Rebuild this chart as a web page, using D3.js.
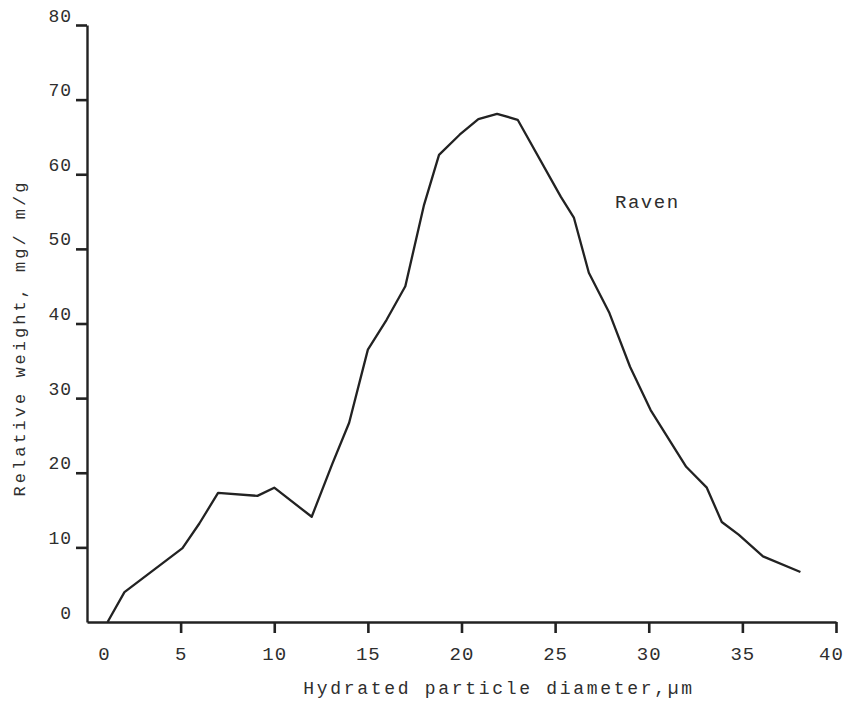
<!DOCTYPE html>
<html>
<head>
<meta charset="utf-8">
<script src="https://cdn.jsdelivr.net/npm/d3@7.9.0/dist/d3.min.js"></script>
<style>
  html, body { margin: 0; padding: 0; background: #fff; }
  svg { display: block; }
  .tick text, .label { font-family: "Liberation Mono", "DejaVu Sans Mono", monospace; fill: #2e2e2e; }
</style>
</head>
<body>
<svg id="chart" width="846" height="706"></svg>
<script>
// Raven: hydrated particle diameter (um) vs relative weight (mg/ m/g)
const diameter = [1.1, 2.0, 5.1, 6.0, 7.0, 9.1, 10.0, 12.0, 13.1, 14.0, 15.0, 16.0, 17.0, 18.0, 18.8,
                  19.9, 20.9, 21.9, 23.0, 25.3, 26.0, 26.8, 27.9, 29.0, 30.1, 32.0, 33.1, 33.9, 34.8, 36.1, 38.1];
const weight = [0, 4.0, 9.9, 13.2, 17.3, 16.9, 18.0, 14.1, 21.2, 26.7, 36.5, 40.5, 45.0, 55.9, 62.6,
                65.3, 67.4, 68.1, 67.3, 57.0, 54.2, 46.8, 41.4, 34.2, 28.4, 20.8, 18.0, 13.4, 11.7, 8.8, 6.7];
const xTicks = [0, 5, 10, 15, 20, 25, 30, 35, 40];
const yTicks = [0, 10, 20, 30, 40, 50, 60, 70, 80];

const svg = d3.select('#chart');
const margin = { top: 25, right: 10, bottom: 84, left: 87 };
const width = +svg.attr('width') - margin.left - margin.right;
const height = +svg.attr('height') - margin.top - margin.bottom;
const ink = '#222';

const g = svg.append('g').attr('transform', `translate(${margin.left},${margin.top})`);

const x = d3.scaleLinear().domain([0, 40]).range([0, width]);
const y = d3.scaleLinear().domain([0, 80]).range([height, 0]);

// x axis; the 0 label sits clear of the y axis, the 40 label inside the frame
const xAxis = g.append('g')
    .attr('transform', `translate(0,${height})`)
    .call(d3.axisBottom(x).tickValues(xTicks).tickSize(11).tickSizeOuter(0).tickPadding(14));
xAxis.select('.domain').attr('stroke', ink).attr('stroke-width', 2.4);
xAxis.selectAll('.tick line').attr('stroke', ink).attr('stroke-width', 2.6)
    .filter(d => d === 0).remove();
xAxis.selectAll('.tick text')
    .attr('font-size', 19).attr('letter-spacing', 1).attr('dy', '0.68em')
    .attr('dx', d => d === 0 ? 17 : d === 40 ? -5 : 0);

// y axis
const yAxis = g.append('g')
    .call(d3.axisLeft(y).tickValues(yTicks).tickSize(11).tickSizeOuter(0).tickPadding(4));
yAxis.select('.domain').attr('stroke', ink).attr('stroke-width', 2.4);
yAxis.selectAll('.tick line').attr('stroke', ink).attr('stroke-width', 2.6)
    .filter(d => d === 0).remove();
yAxis.selectAll('.tick text')
    .attr('font-size', 18).attr('letter-spacing', 1).attr('dy', -4);

// curve
const line = d3.line()
    .x(d => x(d[0]))
    .y(d => y(d[1]));

g.append('path')
    .datum(d3.zip(diameter, weight))
    .attr('fill', 'none')
    .attr('stroke', ink)
    .attr('stroke-width', 2.3)
    .attr('stroke-linejoin', 'round')
    .attr('d', line);

// series label
g.append('text')
    .attr('class', 'label')
    .attr('x', x(28.2))
    .attr('y', y(55.5))
    .attr('font-size', 19)
    .attr('letter-spacing', 1.5)
    .text('Raven');

// axis titles
svg.append('text')
    .attr('class', 'label')
    .attr('x', margin.left + x(22))
    .attr('y', 694)
    .attr('text-anchor', 'middle')
    .attr('font-size', 18)
    .attr('letter-spacing', 2.7)
    .text('Hydrated particle diameter,\u00b5m');

svg.append('text')
    .attr('class', 'label')
    .attr('transform', `translate(25,338) rotate(-90)`)
    .attr('text-anchor', 'middle')
    .attr('font-size', 17)
    .attr('letter-spacing', 3)
    .text('Relative weight, mg/ m/g');
</script>
</body>
</html>
